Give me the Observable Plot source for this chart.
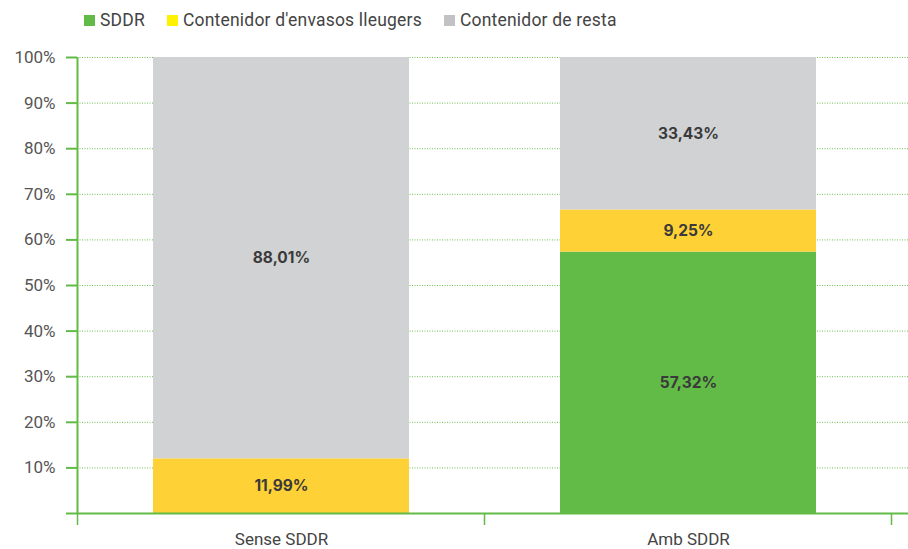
<!DOCTYPE html>
<html><head><meta charset="utf-8">
<script src="https://cdn.jsdelivr.net/npm/d3@7"></script>
<script src="https://cdn.jsdelivr.net/npm/@observablehq/plot@0.6"></script>
<style>
body{margin:0;background:#fff;font-family:Roboto,"Noto Sans",sans-serif;}
#legend{height:40px;display:flex;align-items:center;padding-left:84px;font-size:17.5px;color:#444;}
#legend span.item{display:flex;align-items:center;margin-right:22px;letter-spacing:0.2px;}
#legend span.sw{display:inline-block;width:11px;height:11px;margin-right:5px;}
</style></head>
<body>
<div id="legend"></div>
<div id="chart"></div>
<script>
const categories = ["Sense SDDR", "Amb SDDR"];
const series = ["SDDR", "Contenidor d'envasos lleugers", "Contenidor de resta"];
const sddr = [0, 57.32];
const envasos = [11.99, 9.25];
const resta = [88.01, 33.43];
const yTicks = [0, 10, 20, 30, 40, 50, 60, 70, 80, 90, 100];

const barColors = ["#62bb46", "#fed136", "#d1d2d4"];
const legendColors = ["#62bb46", "#fff200", "#c2c2c4"];
const green = "#62bb46";

const legend = document.getElementById("legend");
series.forEach((s, i) => {
  const it = document.createElement("span");
  it.className = "item";
  it.innerHTML = `<span class="sw" style="background:${legendColors[i]}"></span>${s}`;
  legend.appendChild(it);
});

const data = [];
categories.forEach((c, i) => {
  [sddr, envasos, resta].forEach((arr, k) => {
    data.push({cat: c, series: series[k], value: arr[i], order: k});
  });
});

const plot = Plot.plot({
  width: 908,
  height: 509,
  marginLeft: 77,
  marginRight: 0,
  marginTop: 17,
  marginBottom: 36,
  x: {domain: categories, range: [77, 892], paddingInner: 0.37, paddingOuter: 0.185, label: null},
  y: {domain: [0, 100], label: null},
  color: {domain: series, range: barColors},
  style: {fontFamily: "Roboto, 'Noto Sans', sans-serif"},
  marks: [
    Plot.gridY(yTicks.filter(d => d > 0), {stroke: "#6cc052", strokeOpacity: 1, strokeDasharray: "1,1.5", strokeWidth: 1}),
    Plot.barY(data, Plot.stackY({x: "cat", y: "value", fill: "series", order: "order"})),
    Plot.text(data.filter(d => d.value > 0), Plot.stackY({x: "cat", y: "value", order: "order", text: d => d.value.toFixed(2).replace(".", ",") + "%", fill: "#3a3a3a", fontWeight: "bold", fontSize: 15.5, fontFamily: "Inter, Roboto, sans-serif"})),
    Plot.ruleY([0], {stroke: green, strokeWidth: 2}),
    Plot.axisY({ticks: yTicks, tickSize: 11, tickPadding: 11, stroke: green, strokeWidth: 2, fill: "#555", fontSize: 17, tickFormat: d => d === 0 ? "" : d + "%", label: null}),
    Plot.axisX({tickSize: 0, tickPadding: 19, fill: "#444", fontSize: 17, label: null})
  ]
});

document.getElementById("chart").appendChild(plot);

// draw y-axis line and band-boundary ticks using the plot's scales
const xs = plot.scale("x");
const ys = plot.scale("y");
const svg = d3.select(plot);
const step = xs.step;
const first = xs.apply(categories[0]) - (step - xs.bandwidth) / 2;
const bounds = d3.range(categories.length + 1).map(i => first + i * step);
const y0 = ys.apply(0), y100 = ys.apply(100);
svg.append("line").attr("x1", bounds[0]).attr("x2", bounds[0]).attr("y1", y100).attr("y2", y0)
  .attr("stroke", green).attr("stroke-width", 2);
svg.append("g").selectAll("line").data(bounds).join("line")
  .attr("x1", d => d).attr("x2", d => d).attr("y1", y0).attr("y2", y0 + 12)
  .attr("stroke", green).attr("stroke-width", 1.5);
</script>
</body></html>
